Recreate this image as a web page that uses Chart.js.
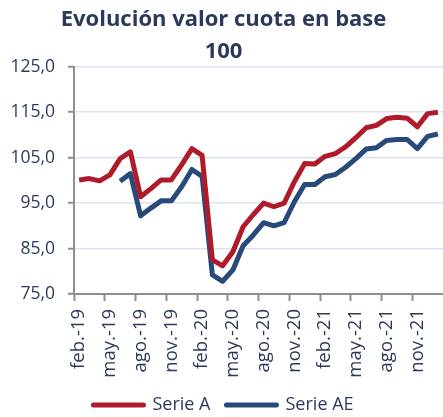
<!DOCTYPE html>
<html>
<head>
<meta charset="utf-8">
<script src="https://cdn.jsdelivr.net/npm/chart.js@4.4.1/dist/chart.umd.min.js"></script>
<style>
  html, body { margin: 0; padding: 0; background: #fff; }
  #wrap { width: 443px; height: 417px; position: relative; }
</style>
</head>
<body>
<div id="wrap"><canvas id="cuota-chart"></canvas></div>
<script>
  // Meses (feb.-19 a ene.-22)
  const months = [
    'feb.-19', 'mar.-19', 'abr.-19', 'may.-19', 'jun.-19', 'jul.-19', 'ago.-19', 'sept.-19', 'oct.-19', 'nov.-19', 'dic.-19', 'ene.-20',
    'feb.-20', 'mar.-20', 'abr.-20', 'may.-20', 'jun.-20', 'jul.-20', 'ago.-20', 'sept.-20', 'oct.-20', 'nov.-20', 'dic.-20', 'ene.-21',
    'feb.-21', 'mar.-21', 'abr.-21', 'may.-21', 'jun.-21', 'jul.-21', 'ago.-21', 'sept.-21', 'oct.-21', 'nov.-21', 'dic.-21', 'ene.-22'
  ];

  const serieA = [
    100.1, 100.4, 99.9, 101.2, 104.8, 106.3, 96.4, 98.2, 100.1, 100.1, 103.4, 107.0,
    105.5, 82.5, 81.2, 84.3, 89.8, 92.5, 95.0, 94.2, 95.0, 99.7, 103.7, 103.6,
    105.3, 105.9, 107.4, 109.4, 111.6, 112.1, 113.6, 113.9, 113.7, 111.8, 114.7, 115.0
  ];

  const serieAE = [
    null, null, null, null, 99.8, 101.5, 92.2, 93.9, 95.5, 95.5, 98.6, 102.4,
    100.9, 79.2, 77.8, 80.3, 85.6, 88.0, 90.7, 90.0, 90.7, 95.3, 99.1, 99.1,
    100.8, 101.3, 102.9, 104.8, 106.9, 107.2, 108.8, 109.0, 109.0, 107.0, 109.7, 110.2
  ];

  const yTicks = [75, 85, 95, 105, 115, 125];

  const navy = '#2b3a5c';
  const red = '#b01b2b';
  const blue = '#284a7b';
  const axisGrey = '#8f8f8f';
  const font = "'Open Sans', sans-serif";

  const ctx = document.getElementById('cuota-chart');

  new Chart(ctx, {
    type: 'line',
    data: {
      labels: months,
      datasets: [
        {
          label: 'Serie A',
          data: serieA,
          borderColor: red,
          backgroundColor: red,
          borderWidth: 5,
          borderJoinStyle: 'round',
          pointRadius: 0,
          tension: 0
        },
        {
          label: 'Serie AE',
          data: serieAE,
          borderColor: blue,
          backgroundColor: blue,
          borderWidth: 5,
          borderJoinStyle: 'round',
          pointRadius: 0,
          tension: 0
        }
      ]
    },
    options: {
      responsive: true,
      maintainAspectRatio: false,
      animation: false,
      layout: {
        padding: { left: 0, right: -4, top: 0, bottom: -7 }
      },
      scales: {
        x: {
          type: 'category',
          offset: true,
          border: { color: axisGrey, width: 2 },
          grid: {
            offset: true,
            drawOnChartArea: false,
            tickLength: 7,
            tickWidth: 2,
            tickColor: (c) => (c.index % 3 === 0 ? axisGrey : 'rgba(0,0,0,0)')
          },
          ticks: {
            autoSkip: false,
            maxRotation: 90,
            minRotation: 90,
            padding: 8,
            color: navy,
            font: { family: font, size: 18.5 },
            callback: function (value, index) {
              return index % 3 === 0 ? this.getLabelForValue(value) : '';
            }
          },
          afterFit: (scale) => {
            scale.height = 86;
            scale.paddingRight = 0;
          }
        },
        y: {
          min: 75,
          max: 125,
          afterBuildTicks: (axis) => {
            axis.ticks = yTicks.map((v) => ({ value: v }));
          },
          border: { color: axisGrey, width: 2 },
          grid: {
            color: '#dbe5f1',
            lineWidth: 1.5,
            tickLength: 6,
            tickColor: axisGrey,
            tickWidth: 2
          },
          ticks: {
            padding: 13,
            color: navy,
            font: { family: font, size: 17.5 },
            callback: (v) => v.toFixed(1).replace('.', ',')
          },
          afterFit: (scale) => {
            scale.width = 74;
          }
        }
      },
      plugins: {
        title: {
          display: true,
          text: ['Evolución valor cuota en base', '100'],
          color: navy,
          font: { family: font, size: 22, weight: 'bold', lineHeight: 1.45 },
          padding: { top: 4, bottom: -1 }
        },
        legend: {
          position: 'bottom',
          labels: {
            boxWidth: 50,
            boxHeight: 0,
            padding: 16,
            color: navy,
            font: { family: font, size: 18 }
          }
        },
        tooltip: { enabled: false }
      }
    }
  });
</script>
</body>
</html>
